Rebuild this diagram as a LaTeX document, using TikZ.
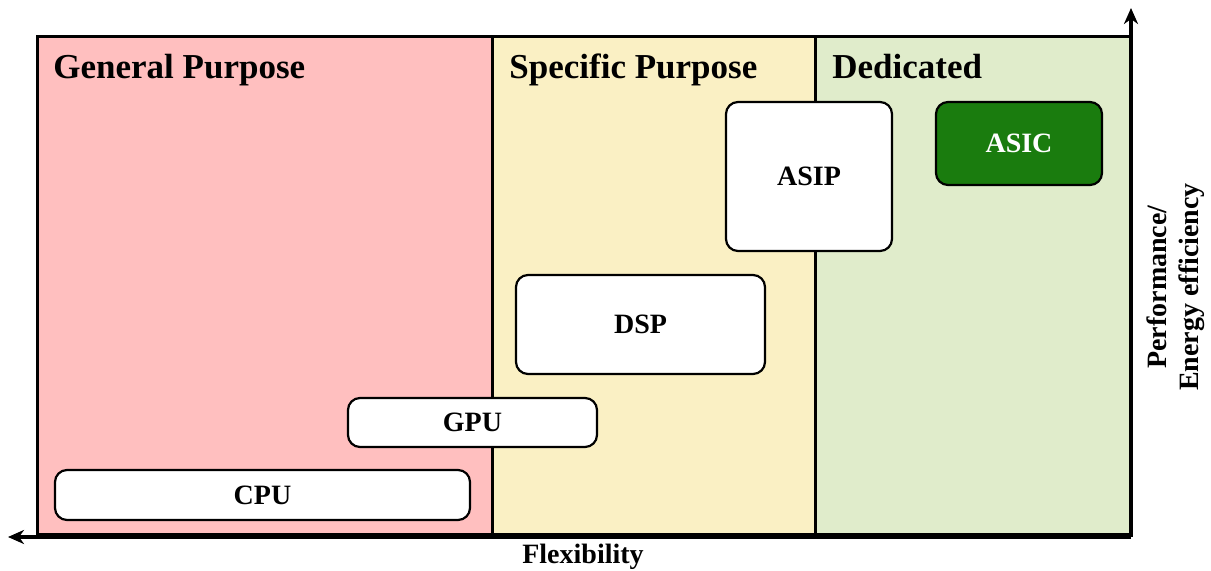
\documentclass[tikz,border=0pt]{standalone}
\usepackage{fontspec}
\setmainfont{Liberation Serif}
\usetikzlibrary{arrows.meta}
\definecolor{gpfill}{RGB}{255,191,191}
\definecolor{spfill}{RGB}{250,240,196}
\definecolor{dedfill}{RGB}{224,236,203}
\definecolor{asicfill}{RGB}{26,124,14}
\tikzset{
  region/.style={draw=black, line width=1.5pt},
  heading/.style={anchor=base west, inner sep=0pt, font=\fontsize{17.5}{20}\selectfont\bfseries},
  chip/.style={draw=black, line width=1.1pt, rounded corners=6pt, fill=white, inner sep=0pt,
    font=\fontsize{14}{16}\selectfont\bfseries},
  axis/.style={line width=2pt, -{Stealth[length=8pt, width=7pt, inset=2.5pt]}},
  axislabel/.style={font=\fontsize{14}{16}\selectfont\bfseries, inner sep=0pt, align=center}
}
\begin{document}
\begin{tikzpicture}[x=0.5pt, y=-0.5pt]
  \useasboundingbox (0,0) rectangle (1211,571);
  % the three regions
  \fill[gpfill] (37,37) rectangle (492,535);
  \fill[spfill] (492,37) rectangle (815,535);
  \fill[dedfill] (815,37) rectangle (1131,535);
  \draw[region] (37,37) rectangle (1131,535);
  \draw[region] (492,37) -- (492,535);
  \draw[region] (815,37) -- (815,535);
  % region headings
  \node[heading] (hgp) at (53,78.5) {General Purpose};
  \node[heading] (hsp) at (509,78.5) {Specific Purpose};
  \node[heading] (hded) at (832,78.5) {Dedicated};
  % processor classes
  \node[chip, minimum width=207.5pt, minimum height=25pt] (cpu) at (262.5,495) {CPU};
  \node[chip, minimum width=124.5pt, minimum height=24.5pt] (gpu) at (472.5,422.5) {GPU};
  \node[chip, minimum width=124.5pt, minimum height=49.5pt] (dsp) at (640.5,324.5) {DSP};
  \node[chip, minimum width=83pt, minimum height=74.5pt] (asip) at (809,176.5) {ASIP};
  \node[chip, fill=asicfill, text=white, minimum width=83pt, minimum height=41.5pt] (asic) at (1019,143.5) {ASIC};
  % axes
  \coordinate (origin) at (1131,537);
  \coordinate (ytip) at (1131,8);
  \coordinate (xtip) at (8,537);
  \draw[axis] (origin) -- (ytip);
  \draw[axis] (origin) -- (xtip);
  \node[axislabel] (xlab) at (583,557) {Flexibility};
  \node[axislabel, rotate=90] (ylab) at (1176,287) {Performance/\\Energy efficiency};
\end{tikzpicture}
\end{document}
